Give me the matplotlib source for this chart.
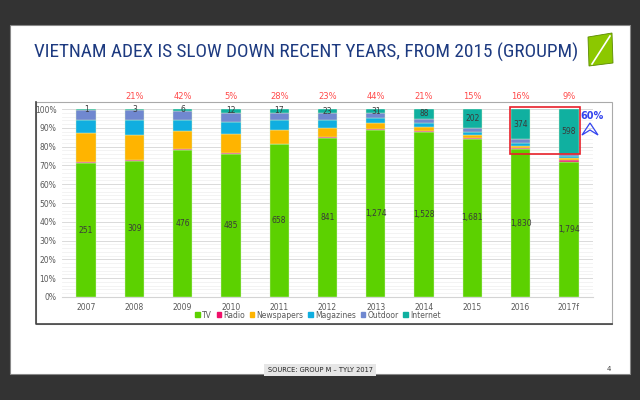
import numpy as np
import matplotlib
matplotlib.use("Agg")
import matplotlib.pyplot as plt
from matplotlib import font_manager
from matplotlib.patches import Rectangle, Polygon
from matplotlib.lines import Line2D
from matplotlib.ticker import MultipleLocator, FuncFormatter

# ---------- data (USD million) ----------
years = ["2007", "2008", "2009", "2010", "2011", "2012", "2013", "2014", "2015", "2016", "2017f"]
tv = [251, 309, 476, 485, 658, 841, 1274, 1528, 1681, 1830, 1794]
radio = [2, 2, 3, 4, 4, 5, 6, 7, 8, 9, 30]
newspapers = [55, 57, 58, 64, 59, 50, 45, 42, 38, 33, 28]
magazines = [25, 33, 35, 40, 41, 45, 43, 38, 24, 28, 25]
outdoor = [19, 23, 31, 32, 32, 33, 36, 37, 46, 51, 25]
internet = [1, 3, 6, 12, 17, 23, 31, 88, 202, 374, 598]
growth = ["", "21%", "42%", "5%", "28%", "23%", "44%", "21%", "15%", "16%", "9%"]

media = ["TV", "Radio", "Newspapers", "Magazines", "Outdoor", "Internet"]
colors = ["#5cd100", "#f0106a", "#ffb400", "#10aee0", "#7088d0", "#10b0a0"]

W, H = 640, 400
def fx(px): return px / W
def fy(py): return 1 - py / H

fig = plt.figure(figsize=(6.4, 4), dpi=100)
fig.patch.set_facecolor("#333333")

# slide + chart frame
fig.add_artist(Rectangle((fx(10), fy(374)), fx(620), 349 / H, transform=fig.transFigure,
                         facecolor="white", edgecolor="#888888", lw=0.8, zorder=-10))
fig.add_artist(Rectangle((fx(36), fy(324)), fx(576), 222 / H, transform=fig.transFigure,
                         facecolor="white", edgecolor="#aaaaaa", lw=0.8, zorder=-9))
fig.add_artist(Line2D([fx(36), fx(36), fx(612)], [fy(102), fy(324), fy(324)],
                      transform=fig.transFigure, color="#444444", lw=1.2, zorder=-8))

# title: pick a narrow face if one exists, then fit it to the slide width
names = {f.name for f in font_manager.fontManager.ttflist}
title_font = next((n for n in ["Liberation Sans Narrow", "DejaVu Sans Condensed",
                               "Roboto Condensed", "Liberation Sans"] if n in names), "DejaVu Sans")
title = fig.text(fx(34), fy(52), "VIETNAM ADEX IS SLOW DOWN RECENT YEARS, FROM 2015 (GROUPM)",
                 family=title_font, fontsize=15.5, color="#1d3a80", va="center", ha="left")
renderer = fig.canvas.get_renderer()
tw = title.get_window_extent(renderer).width
title.set_fontsize(15.5 * 545 / tw)

# logo
fig.add_artist(Polygon([(fx(588), fy(37)), (fx(612), fy(33)), (fx(613), fy(63)), (fx(589), fy(66))],
                       closed=True, transform=fig.transFigure, facecolor="#8cc800",
                       edgecolor="#5a8a00", lw=0.6))
fig.add_artist(Line2D([fx(592), fx(610)], [fy(64), fy(36)], transform=fig.transFigure,
                      color="white", lw=1.2))

# ---------- chart ----------
ax = fig.add_axes([fx(62), fy(297), (593 - 62) / W, (297 - 109) / H])
ax.set_facecolor("none")

data = np.array([tv, radio, newspapers, magazines, outdoor, internet], dtype=float)
share = data / data.sum(axis=0) * 100
x = np.arange(len(years))
bottom = np.zeros(len(years))
for i, name in enumerate(media):
    ax.bar(x, share[i], bottom=bottom, width=0.4, color=colors[i], edgecolor="#d8f0c8",
           linewidth=0.3, label=name, zorder=3)
    if name == "TV":
        for j in x:
            ax.text(j, bottom[j] + share[i][j] / 2, f"{tv[j]:,}", ha="center", va="center",
                    fontsize=5.5, color="#3a3a3a", zorder=4)
    if name == "Internet":
        for j in x:
            ax.text(j, bottom[j] + share[i][j] / 2, f"{internet[j]:,}", ha="center", va="center",
                    fontsize=5.5, color="#3a3a3a", zorder=4)
    bottom += share[i]

for j, g in enumerate(growth):
    ax.text(j, 106.5, g, ha="center", va="center", fontsize=6, color="#ff4a4a", clip_on=False)

ax.set_xlim(-0.5, len(years) - 0.5)
ax.set_ylim(0, 100)
ax.yaxis.set_major_locator(MultipleLocator(10))
ax.yaxis.set_minor_locator(MultipleLocator(2))
ax.yaxis.set_major_formatter(FuncFormatter(lambda v, p: f"{v:.0f}%"))
ax.set_xticks(x)
ax.set_xticklabels(years)
ax.tick_params(axis="both", length=0, labelsize=5.5, labelcolor="#595959", pad=4)
ax.tick_params(axis="y", which="minor", length=0)
ax.grid(axis="y", which="major", color="#d4d4d4", lw=0.6, zorder=0)
ax.grid(axis="y", which="minor", color="#eeeeee", lw=0.5, zorder=0)
for s in ["top", "right", "left"]:
    ax.spines[s].set_visible(False)
ax.spines["bottom"].set_color("#d4d4d4")

# highlight box on 2016 / 2017f internet
ax.add_patch(Rectangle((8.78, 76), 1.45, 25.2, fill=False, edgecolor="#e8202a", lw=1.2,
                       clip_on=False, zorder=6))
fig.text(fx(592), fy(116), "60%", color="#3344ee", fontsize=7, fontweight="bold",
         ha="center", va="center")
fig.add_artist(Polygon([(fx(590), fy(123)), (fx(598), fy(135)), (fx(590), fy(130)), (fx(582), fy(135))],
                       closed=True, transform=fig.transFigure, fill=False,
                       edgecolor="#3344ee", lw=0.9))

# legend
handles = [Rectangle((0, 0), 1, 1, color=c) for c in colors]
fig.legend(handles, media, loc="center", bbox_to_anchor=(fx(318), fy(315)), ncol=6,
           fontsize=5.5, frameon=False, handlelength=0.6, handleheight=0.6,
           handletextpad=0.3, columnspacing=0.6, labelcolor="#595959")

# footer
fig.text(fx(320), fy(370), "SOURCE: GROUP M \u2013 TYLY 2017", fontsize=4.8, color="#222222",
         ha="center", va="center",
         bbox=dict(boxstyle="square,pad=0.5", facecolor="#e6e6e6", edgecolor="none"))
fig.text(fx(609), fy(369), "4", fontsize=5, color="#444444", ha="center", va="center")

fig.savefig("out.png", dpi=100, facecolor=fig.get_facecolor())
